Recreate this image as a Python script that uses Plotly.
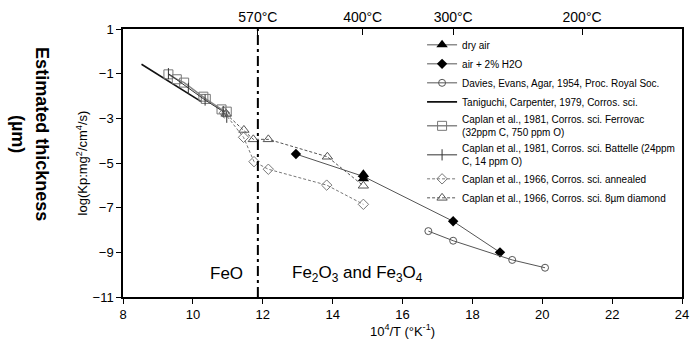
import plotly.graph_objects as go

# ---- data ----
dry_x = [14.88, 14.88]
dry_y = [-5.50, -5.70]

h2o_x = [12.95, 14.88, 17.45, 18.79]
h2o_y = [-4.60, -5.60, -7.61, -9.00]

davies_x = [16.74, 17.45, 19.14, 20.08]
davies_y = [-8.05, -8.48, -9.34, -9.69]

tani_x = [8.53, 10.25]
tani_y = [-0.58, -2.26]

ferro_x = [9.30, 9.54, 9.75, 10.30, 10.37, 10.82, 10.97]
ferro_y = [-1.03, -1.25, -1.40, -2.03, -2.13, -2.60, -2.70]

batt_x = [9.30, 9.87, 10.35, 10.87, 10.97]
batt_y = [-1.00, -1.66, -2.18, -2.70, -2.95]

ann_x = [10.90, 11.45, 11.75, 12.16, 13.83, 14.88]
ann_y = [-2.75, -3.85, -4.94, -5.28, -5.99, -6.85]

dia_x = [10.95, 11.46, 11.73, 12.16, 13.85, 14.88]
dia_y = [-2.80, -3.52, -3.94, -3.94, -4.72, -6.02]

phase_boundary_x = 11.86
top_tick_vals = [11.86, 14.86, 17.45, 21.14]
top_tick_text = ["570°C", "400°C", "300°C", "200°C"]

FONT = "Arial, Liberation Sans, sans-serif"

fig = go.Figure()

fig.add_trace(go.Scatter(x=dry_x, y=dry_y, mode="lines+markers", name="dry air",
                         line=dict(color="#555555", width=1),
                         marker=dict(symbol="triangle-up", size=10, color="black")))
fig.add_trace(go.Scatter(x=h2o_x, y=h2o_y, mode="lines+markers", name="air + 2% H2O",
                         line=dict(color="#555555", width=1),
                         marker=dict(symbol="diamond", size=8, color="black")))
fig.add_trace(go.Scatter(x=davies_x, y=davies_y, mode="lines+markers",
                         name="Davies, Evans, Agar, 1954, Proc. Royal Soc.",
                         line=dict(color="#555555", width=1),
                         marker=dict(symbol="circle-open", size=7, color="#555555")))
fig.add_trace(go.Scatter(x=tani_x, y=tani_y, mode="lines",
                         name="Taniguchi, Carpenter, 1979, Corros. sci.",
                         line=dict(color="#111111", width=1.6)))
fig.add_trace(go.Scatter(x=ferro_x, y=ferro_y, mode="lines+markers",
                         name="Caplan et al., 1981, Corros. sci. Ferrovac<br>(32ppm C, 750 ppm O)",
                         line=dict(color="#888888", width=1.5),
                         marker=dict(symbol="square-open", size=9, color="#777777")))
fig.add_trace(go.Scatter(x=batt_x, y=batt_y, mode="lines+markers",
                         name="Caplan et al., 1981, Corros. sci. Battelle (24ppm<br>C, 14 ppm O)",
                         line=dict(color="#333333", width=1),
                         marker=dict(symbol="line-ns-open", size=8, color="#333333",
                                     line=dict(width=1, color="#333333"))))
fig.add_trace(go.Scatter(x=ann_x, y=ann_y, mode="lines+markers",
                         name="Caplan et al., 1966, Corros. sci. annealed",
                         line=dict(color="#777777", width=1, dash="3px,2px"),
                         marker=dict(symbol="diamond-open", size=8, color="#777777")))
fig.add_trace(go.Scatter(x=dia_x, y=dia_y, mode="lines+markers",
                         name="Caplan et al., 1966, Corros. sci. 8µm diamond",
                         line=dict(color="#555555", width=1, dash="3px,2px"),
                         marker=dict(symbol="triangle-up-open", size=9, color="#555555")))

# phase boundary
fig.add_trace(go.Scatter(x=[phase_boundary_x, phase_boundary_x], y=[-11, 1], mode="lines",
                         line=dict(color="black", width=2, dash="10px,4px,3px,4px"),
                         showlegend=False, hoverinfo="skip"))
# invisible trace for top axis
fig.add_trace(go.Scatter(x=[8, 24], y=[-11, -11], xaxis="x2", mode="markers",
                         marker=dict(opacity=0), showlegend=False, hoverinfo="skip"))

fig.add_annotation(x=10.95, y=-9.95, text="FeO", showarrow=False,
                   font=dict(size=17, color="black", family=FONT))
fig.add_annotation(x=14.72, y=-9.95, text="Fe<sub>2</sub>O<sub>3</sub> and Fe<sub>3</sub>O<sub>4</sub>",
                   showarrow=False, font=dict(size=17, color="black", family=FONT))
fig.add_annotation(xref="paper", yref="paper", x=-0.166, y=0.607,
                   xanchor="center", yanchor="middle",
                   text="<b>Estimated thickness<br>(µm)</b>", textangle=90, showarrow=False,
                   font=dict(size=18, color="black", family=FONT))

fig.update_layout(
    width=696, height=342,
    margin=dict(l=123, r=14, t=29, b=45, autoexpand=False),
    paper_bgcolor="white", plot_bgcolor="white",
    font=dict(family=FONT, size=13, color="black"),
    xaxis=dict(range=[8, 24], tickvals=[8, 10, 12, 14, 16, 18, 20, 22, 24],
               ticks="outside", ticklen=5, tickcolor="black",
               showline=True, linecolor="black", linewidth=1.5, mirror=False,
               showgrid=False, zeroline=False, automargin=False,
               title=dict(text="10<sup>4</sup>/T (°K<sup>-1</sup>)", standoff=5,
                          font=dict(size=13))),
    xaxis2=dict(range=[8, 24], overlaying="x", side="top", tickvals=top_tick_vals,
                ticktext=top_tick_text, ticks="inside", ticklen=6, tickcolor="black",
                showline=True, linecolor="black", linewidth=1.5, automargin=False,
                showgrid=False, zeroline=False, tickfont=dict(size=14)),
    yaxis=dict(range=[-11, 1], tickvals=[-11, -9, -7, -5, -3, -1, 1],
               ticks="outside", ticklen=5, tickcolor="black",
               showline=True, linecolor="black", linewidth=1.5, mirror=True,
               showgrid=False, zeroline=False, automargin=False,
               title=dict(text="log(Kp:mg<sup>2</sup>/cm<sup>4</sup>/s)", standoff=2,
                          font=dict(size=13))),
    legend=dict(x=0.535, y=0.995, xanchor="left", yanchor="top",
                bgcolor="rgba(0,0,0,0)", font=dict(size=10, family=FONT),
                tracegroupgap=0, itemwidth=30),
    showlegend=True,
)

fig.write_html("out.html")
